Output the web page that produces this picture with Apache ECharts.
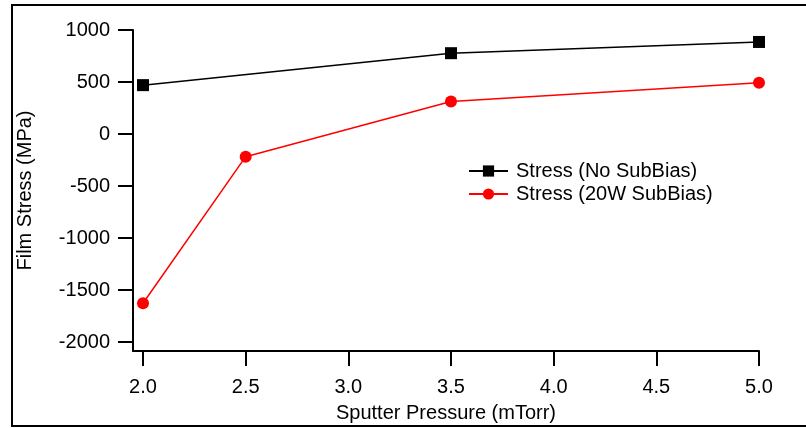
<!DOCTYPE html>
<html>
<head>
<meta charset="utf-8">
<script src="https://cdn.jsdelivr.net/npm/echarts@6/dist/echarts.min.js"></script>
<style>
  html, body { margin: 0; padding: 0; background: #fff; }
  #main { width: 806px; height: 428px; }
</style>
</head>
<body>
<div id="main"></div>
<script>
// data
var noBiasX = [2.0, 3.5, 5.0]
var noBiasY = [470, 777, 885]
var biasX = [2.0, 2.5, 3.5, 5.0]
var biasY = [-1627, -218, 312, 494]
var xTicks = [2.0, 2.5, 3.0, 3.5, 4.0, 4.5, 5.0]
var yTicks = [-2000, -1500, -1000, -500, 0, 500, 1000]

var font = 'Arial, "Liberation Sans", sans-serif'

function pairs(xs, ys) {
  return xs.map(function (x, i) { return [x, ys[i]] })
}

var myChart = echarts.init(document.getElementById('main'))
myChart.setOption({
  animation: false,
  backgroundColor: '#fff',
  textStyle: { fontFamily: font },
  graphic: [
    { // outer frame
      type: 'rect',
      shape: { x: 12, y: 5, width: 800, height: 421 },
      style: { fill: 'none', stroke: '#000', lineWidth: 2 },
      silent: true
    }
  ],
  grid: { left: 133, right: 47, top: 30, bottom: 75 },
  legend: {
    left: 468,
    top: 161,
    padding: 0,
    orient: 'vertical',
    itemWidth: 39,
    itemHeight: 14,
    itemGap: 3,
    textStyle: { fontSize: 20, lineHeight: 16, color: '#000', fontFamily: font, padding: [0, 0, 0, 3] },
    data: ['Stress (No SubBias)', 'Stress (20W SubBias)']
  },
  xAxis: {
    type: 'value',
    min: 1.9513,
    max: 5.0,
    name: 'Sputter Pressure (mTorr)',
    nameLocation: 'middle',
    nameGap: 52,
    nameTextStyle: { fontSize: 20, color: '#000', fontFamily: font },
    axisLine: { onZero: false, lineStyle: { color: '#000', width: 2 } },
    axisTick: { customValues: xTicks, length: 15, lineStyle: { color: '#000', width: 2 } },
    axisLabel: {
      customValues: xTicks,
      margin: 26,
      fontSize: 20,
      color: '#000',
      formatter: function (v) { return v.toFixed(1) }
    },
    splitLine: { show: false }
  },
  yAxis: {
    type: 'value',
    min: -2086,
    max: 1000,
    name: 'Film Stress (MPa)',
    nameLocation: 'middle',
    nameGap: 98,
    nameTextStyle: { fontSize: 20, color: '#000', fontFamily: font },
    axisLine: { show: true, onZero: false, lineStyle: { color: '#000', width: 2 } },
    axisTick: { show: true, customValues: yTicks, length: 15, lineStyle: { color: '#000', width: 2 } },
    axisLabel: {
      customValues: yTicks,
      margin: 23,
      fontSize: 20,
      color: '#000',
      formatter: function (v) { return String(v) }
    },
    splitLine: { show: false }
  },
  series: [
    {
      name: 'Stress (No SubBias)',
      type: 'line',
      data: pairs(noBiasX, noBiasY),
      symbol: 'rect',
      symbolSize: 12,
      color: '#000',
      lineStyle: { color: '#000', width: 1.5 },
      itemStyle: { color: '#000' }
    },
    {
      name: 'Stress (20W SubBias)',
      type: 'line',
      data: pairs(biasX, biasY),
      symbol: 'circle',
      symbolSize: 12,
      color: '#ff0000',
      lineStyle: { color: '#ff0000', width: 1.5 },
      itemStyle: { color: '#ff0000' }
    }
  ]
})
</script>
</body>
</html>
